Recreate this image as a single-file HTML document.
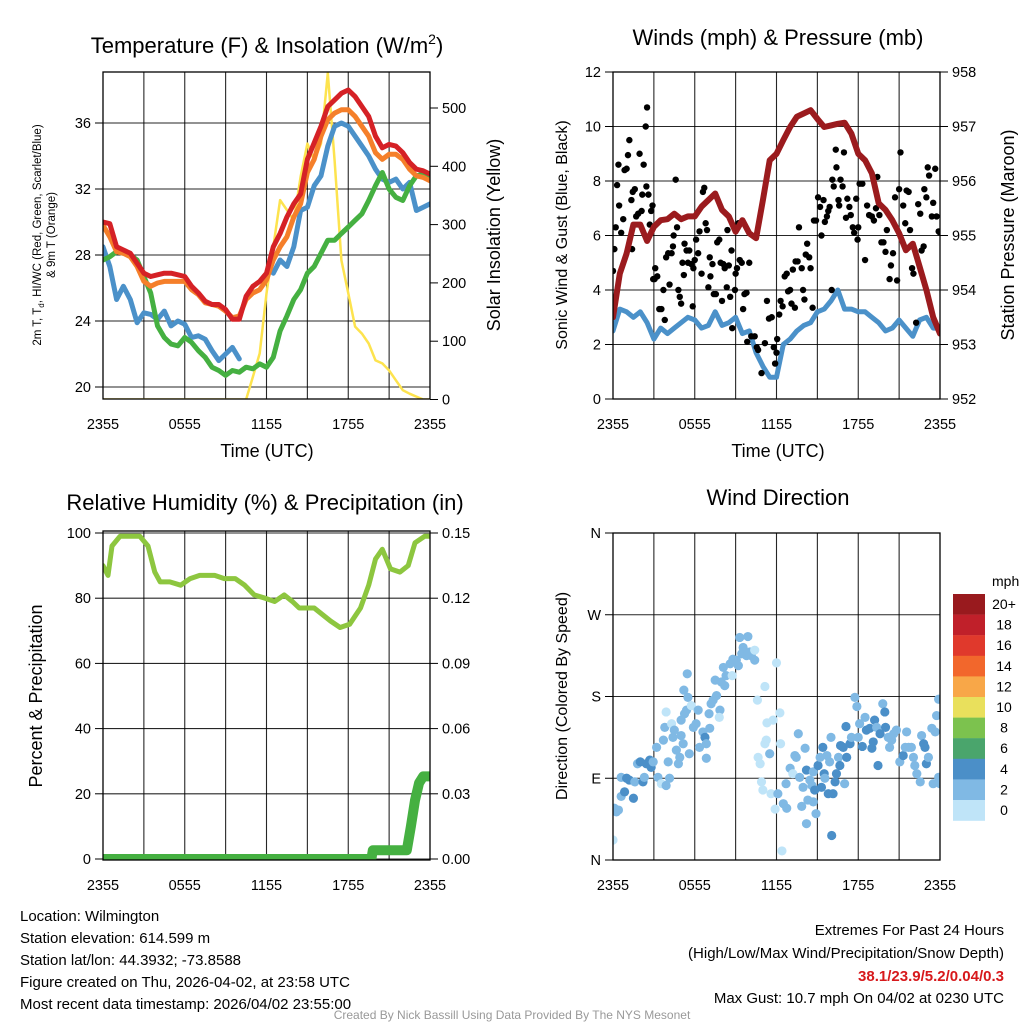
<!DOCTYPE html>
<html><head><meta charset="utf-8">
<style>
html,body{margin:0;padding:0;background:#fff;}
svg{display:block;font-family:"Liberation Sans",sans-serif;}
</style></head>
<body>
<svg id="c" width="1024" height="1024" viewBox="0 0 1024 1024">
<g id="texts">
<text x="267" y="53" font-size="22" text-anchor="middle">Temperature (F) &amp; Insolation (W/m<tspan font-size="14" dy="-9">2</tspan><tspan dy="9">)</tspan></text>
<text x="778" y="45" font-size="22" text-anchor="middle">Winds (mph) &amp; Pressure (mb)</text>
<text x="265" y="510" font-size="22" text-anchor="middle">Relative Humidity (%) &amp; Precipitation (in)</text>
<text x="778" y="505" font-size="22" text-anchor="middle">Wind Direction</text>
<text x="267" y="457" font-size="18" text-anchor="middle">Time (UTC)</text>
<text x="778" y="457" font-size="18" text-anchor="middle">Time (UTC)</text>
<text transform="translate(41,235) rotate(-90)" font-size="11.5" text-anchor="middle">2m T, T<tspan font-size="8" dy="3">d</tspan><tspan dy="-3">, HI/WC (Red, Green, Scarlet/Blue)</tspan></text>
<text transform="translate(55,235) rotate(-90)" font-size="11.5" text-anchor="middle">&amp; 9m T (Orange)</text>
<text transform="translate(500,235) rotate(-90)" font-size="18" text-anchor="middle">Solar Insolation (Yellow)</text>
<text transform="translate(567,235) rotate(-90)" font-size="16" text-anchor="middle">Sonic Wind &amp; Gust (Blue, Black)</text>
<text transform="translate(1014,235) rotate(-90)" font-size="18" text-anchor="middle">Station Pressure (Maroon)</text>
<text transform="translate(42,696) rotate(-90)" font-size="18" text-anchor="middle">Percent &amp; Precipitation</text>
<text transform="translate(567,696) rotate(-90)" font-size="16" text-anchor="middle">Direction (Colored By Speed)</text>
<g font-size="15">
<text x="20" y="921">Location: Wilmington</text>
<text x="20" y="943">Station elevation: 614.599 m</text>
<text x="20" y="965">Station lat/lon: 44.3932; -73.8588</text>
<text x="20" y="987">Figure created on Thu, 2026-04-02, at 23:58 UTC</text>
<text x="20" y="1009">Most recent data timestamp: 2026/04/02 23:55:00</text>
</g>
<g font-size="15" text-anchor="end">
<text x="1004" y="935">Extremes For Past 24 Hours</text>
<text x="1004" y="958">(High/Low/Max Wind/Precipitation/Snow Depth)</text>
<text x="1004" y="981" fill="#d7191c" font-weight="bold">38.1/23.9/5.2/0.04/0.3</text>
<text x="1004" y="1003">Max Gust: 10.7 mph On 04/02 at 0230 UTC</text>
</g>
<text x="512" y="1019" font-size="12" fill="#999" text-anchor="middle">Created By Nick Bassill Using Data Provided By The NYS Mesonet</text>
<text x="992" y="586" font-size="14">mph</text>
</g>
</svg>
<script>
// ---------- data ----------
const hours = [0,0.5,1,1.5,2,2.5,3,3.5,4,4.5,5,5.5,6,6.5,7,7.5,8,8.5,9,9.5,10,10.5,11,11.5,12,12.5,13,13.5,14,14.5,15,15.5,16,16.5,17,17.5,18,18.5,19,19.5,20,20.5,21,21.5,22,22.5,23,23.5,24];
const temp2m = [30.0,29.9,28.5,28.3,28.1,27.5,26.9,26.7,26.8,26.9,26.9,26.8,26.7,26.1,25.7,25.2,25.0,25.0,24.7,24.1,24.1,25.5,26.1,26.4,26.9,28.5,29.3,30.3,31.1,31.7,33.8,34.8,35.8,37.0,37.4,37.8,38.0,37.6,37.0,36.4,35.2,34.5,34.7,34.6,34.2,33.6,33.2,33.1,32.9];
const temp9m = [29.8,29.1,28.2,28.1,27.9,27.3,26.4,26.1,26.3,26.4,26.4,26.4,26.4,25.9,25.6,25.1,25.0,24.9,24.6,24.2,24.3,25.3,25.7,25.9,26.5,27.7,28.5,29.1,30.3,31.1,33.0,33.8,35.2,36.2,36.6,36.8,36.8,36.4,35.8,35.2,34.2,33.8,34.1,34.1,33.8,33.2,32.8,32.7,32.5];
const dewpt = [27.7,27.9,28.2,28.1,28.0,27.7,26.7,25.7,23.7,23.0,22.6,22.5,23.0,22.7,22.2,21.8,21.2,21.0,20.7,21.0,20.9,21.2,21.1,21.4,21.2,21.8,23.4,24.3,25.3,25.9,26.9,27.3,28.1,28.9,28.9,29.3,29.7,30.1,30.5,31.3,32.2,33.0,32.0,31.5,31.3,32.2,32.8,32.9,32.7];
const heatWind = [28.5,27.3,25.3,26.1,25.3,23.9,24.5,24.4,24.1,24.6,23.7,24.0,23.8,23.0,23.1,22.9,22.2,21.6,22.0,22.4,21.7,null,null,null,null,26.9,27.7,27.3,28.5,30.7,30.9,32.2,32.8,34.6,35.8,36.0,35.8,35.2,34.6,34.0,33.2,32.6,32.4,32.6,32.0,32.4,30.7,30.9,31.1];
const insolation = [0,0,0,0,0,0,0,0,0,0,0,0,0,0,0,0,0,0,0,0,0,0,39,79,182,262,342,325,307,382,439,410,439,560,410,239,182,125,113,96,67,62,50,33,16,10,5,0,0];
const windSpeed = [2.5,3.3,3.2,3.0,3.2,2.8,2.2,2.6,2.4,2.6,2.8,3.0,2.9,2.6,2.7,3.2,2.7,2.8,3.0,2.4,2.5,1.7,1.2,0.8,0.8,2.0,2.2,2.5,2.7,2.8,3.2,3.3,3.6,4.0,3.3,3.3,3.2,3.2,3.0,2.8,2.5,2.6,2.9,2.6,2.3,2.9,3.0,2.6,2.6];
const pressure = [953.5,954.3,954.67,955.2,955.2,954.9,955.16,955.28,955.3,955.4,955.3,955.35,955.35,955.53,955.65,955.77,955.47,955.35,955.07,955.28,955.04,954.95,955.65,956.38,956.5,956.75,956.99,957.18,957.24,957.3,957.14,956.99,957.02,957.05,957.07,956.87,956.5,956.38,956.14,955.59,955.47,955.28,955.04,954.73,954.85,954.43,954.0,953.5,953.2];
const gustHours = [0,0.1,0.2,0.3,0.4,0.45,0.6,0.75,0.85,1.0,1.1,1.2,1.35,1.4,1.45,1.6,1.7,1.85,1.95,2.1,2.15,2.25,2.4,2.5,2.45,2.6,2.7,2.8,2.9,2.95,3.05,3.1,3.25,3.4,3.55,3.7,3.8,3.9,4.05,4.15,4.3,4.4,4.45,4.6,4.7,4.8,4.9,5.0,5.1,5.2,5.25,5.4,5.5,5.6,5.75,5.85,5.9,6.0,6.1,6.25,6.35,6.5,6.6,6.7,6.8,6.9,7.0,7.1,7.15,7.3,7.4,7.55,7.65,7.8,7.9,8.0,8.1,8.2,8.35,8.4,8.5,8.6,8.7,8.75,8.95,9.0,9.1,9.2,9.3,9.45,9.55,9.65,9.8,9.85,10.0,10.15,10.4,10.55,10.65,10.9,11.15,11.3,11.45,11.65,11.8,11.9,12.0,12.05,12.2,12.3,12.45,12.6,12.75,12.85,13.0,13.1,13.2,13.35,13.4,13.55,13.65,13.85,13.95,14.05,14.15,14.25,14.4,14.5,14.65,14.75,14.9,15.05,15.2,15.3,15.45,15.55,15.7,15.8,15.9,16.05,16.1,16.2,16.35,16.4,16.55,16.6,16.7,16.85,16.95,17.1,17.2,17.35,17.45,17.6,17.7,17.85,17.95,18.0,18.1,18.3,18.5,18.65,18.8,19.0,19.15,19.3,19.4,19.55,19.7,19.85,20.0,20.1,20.3,20.4,20.55,20.7,20.85,21.0,21.1,21.3,21.45,21.55,21.7,21.8,21.95,22.05,22.25,22.4,22.55,22.65,22.8,22.85,23.0,23.1,23.2,23.4,23.5,23.65,23.75,23.9,24.0];
const gustSpeed = [4.7,5.5,6.3,7.85,8.6,7.1,6.1,6.6,8.4,8.45,8.95,9.5,7.3,5.5,7.6,7.7,6.7,6.8,9.0,6.9,7.5,8.6,10.0,10.7,7.8,7.5,6.4,6.9,7.1,4.4,4.4,4.8,4.5,3.3,3.3,4.0,2.9,5.2,5.35,4.2,5.35,5.6,6.0,8.05,6.3,4.0,3.75,3.5,5.0,4.55,5.7,5.45,5.0,5.45,4.95,3.4,4.8,5.1,5.85,5.35,6.15,4.6,7.6,7.75,6.45,6.2,4.1,5.2,4.5,4.95,3.85,3.85,5.75,5.85,5.0,3.6,4.95,4.8,4.1,6.2,4.9,3.75,5.45,2.6,4.0,4.6,4.8,6.45,5.1,5.0,3.3,3.85,3.9,2.1,5.0,2.3,2.3,1.9,1.8,0.95,2.05,3.6,2.95,3.0,1.9,1.3,1.7,2.2,3.1,3.6,3.4,4.5,4.6,3.95,4.0,3.5,4.75,3.35,5.05,5.05,6.3,4.8,4.0,3.65,5.3,5.7,5.2,4.8,3.35,6.55,6.55,7.4,7.05,6.0,7.3,6.5,6.7,6.9,7.05,4.0,8.05,7.8,9.15,8.5,7.3,7.1,8.05,7.8,9.05,6.65,7.35,7.05,6.75,6.3,6.1,7.35,5.85,6.3,7.9,7.9,5.1,7.1,6.75,6.7,6.55,7.0,8.15,6.75,5.75,5.75,5.4,6.2,4.4,4.9,5.35,7.4,4.35,7.7,9.05,7.1,6.45,7.65,7.6,6.2,4.8,4.6,2.8,7.15,6.8,5.45,5.6,7.7,7.4,8.5,8.2,6.7,7.2,8.45,6.7,6.15,6.1];
const rhHours = [0,0.37,0.66,1.25,2.7,3.3,3.8,4.2,4.9,5.7,6.4,7.1,8.2,8.9,9.7,10.4,11.1,11.9,12.6,13.3,13.9,14.4,15.5,16.7,17.4,18.1,18.9,19.5,20.0,20.5,21.1,21.8,22.4,22.9,23.6,24];
const rh = [90,87,96,99,99,96,88,85,85,84,86,87,87,86,86,84,81,80,79,81,79,77,77,73,71,72,77,84,92,95,89,88,90,97,99,99];
const precipHours = [0,19.7,19.8,22.3,22.6,22.9,23.2,23.5,24];
const precip = [0,0,0.004,0.004,0.015,0.027,0.035,0.038,0.038];
const dirHours = [0,0.1,0.25,0.4,0.6,0.85,1.5,0.6,1.0,1.2,1.6,1.8,2.0,2.2,2.3,2.45,2.7,2.8,2.95,3.2,3.3,3.55,3.9,4.15,3.7,3.8,3.9,4.05,4.3,4.4,4.5,4.65,4.8,4.9,5.0,5.15,5.0,5.25,5.4,5.5,5.2,5.45,5.75,5.6,5.9,6.1,6.25,6.35,6.6,6.75,6.85,6.85,7.05,7.1,7.2,7.35,7.6,7.85,7.8,7.5,7.95,8.2,8.1,8.3,8.6,8.75,8.8,9.05,9.2,9.3,9.45,9.55,9.8,9.9,10.05,10.15,10.4,10.4,10.6,11.15,12.0,10.65,10.8,10.9,11.0,11.15,11.25,11.3,11.5,11.75,11.6,11.9,12.25,12.3,12.4,12.1,12.5,12.75,12.7,13.0,13.2,13.35,13.45,13.6,13.7,13.85,13.95,14.1,14.2,14.2,14.3,14.45,14.6,14.7,14.7,14.8,14.9,15.05,15.2,15.3,15.4,15.5,15.55,15.7,15.8,15.9,16.0,16.05,16.15,16.3,16.4,16.55,16.65,16.7,16.9,17.0,17.1,17.15,17.4,17.5,17.75,17.9,18.0,18.1,18.3,18.5,18.6,18.85,19.0,19.1,19.2,19.35,19.45,19.6,19.8,19.95,20.0,20.2,20.3,20.45,20.6,20.8,21.05,21.3,21.55,21.45,21.7,21.9,22.05,22.15,22.3,22.55,22.65,22.8,22.9,23.0,23.15,23.4,23.5,23.75,23.9,23.9,24.0,23.65];
const dirDeg = [22,57,53,55,70,75,68,91,90,88,86,106,108,86,91,106,110,102,108,124,91,84,82,90,132,146,163,108,150,135,143,121,106,113,137,128,154,161,165,179,187,205,170,117,146,150,165,124,141,135,128,112,161,145,172,176,181,165,157,198,196,192,212,203,216,203,221,220,214,245,227,234,225,246,229,225,231,220,176,191,217,113,106,86,77,128,132,151,117,154,73,56,162,128,10,73,62,57,84,101,95,115,113,139,91,59,80,123,99,40,66,88,82,64,97,77,51,104,113,80,124,95,90,115,73,108,135,27,73,86,95,113,104,126,124,84,147,113,128,135,179,169,135,150,125,157,143,145,123,130,154,146,104,139,172,163,146,135,124,132,139,143,108,115,141,124,124,124,113,104,95,86,137,128,124,106,113,145,84,159,177,91,84,141];
const dirSpeed = [1,3,3,3,3,5,5,3,5,5,3,3,5,5,3,5,5,5,3,3,3,1,3,3,3,3,1,3,1,3,3,3,3,3,3,3,3,3,3,3,3,3,1,3,3,3,3,3,3,5,3,3,3,3,3,3,3,3,1,3,3,3,3,3,3,1,3,3,3,3,3,3,3,3,3,3,1,3,1,1,1,1,1,1,1,1,1,1,3,1,1,1,1,1,1,3,3,3,3,3,1,3,3,3,3,3,3,3,5,3,3,3,3,3,3,5,3,5,3,5,5,5,3,3,5,3,3,5,5,5,5,3,5,5,5,3,5,5,5,3,3,3,3,3,5,3,5,5,5,5,5,3,5,5,3,5,5,3,3,3,3,3,3,5,3,3,3,3,3,3,3,3,3,5,5,5,3,3,3,3,3,3,3,3];
const timeTicks = ["2355","0555","1155","1755","2355"];
const tempTicks = [20,24,28,32,36];
const insolTicks = [0,100,200,300,400,500];
const windTicks = [0,2,4,6,8,10,12];
const presTicks = [952,953,954,955,956,957,958];
const rhTicks = [0,20,40,60,80,100];
const precipTicks = ["0.00","0.03","0.06","0.09","0.12","0.15"];
const dirLabels = ["N","E","S","W","N"];
const cbLabels = ["20+","18","16","14","12","10","8","6","4","2","0"];
const cbColors = ["#991a1e","#c0202a","#e0392c","#f2672c","#f8a748","#e9e05c","#7cc24e","#4aa56c","#4b8fc8","#80b9e4","#bfe4f8"];

// ---------- helpers ----------
const NS = "http://www.w3.org/2000/svg";
const svg = document.getElementById('c');
function mk(tag, attrs, parent){const e=document.createElementNS(NS,tag);for(const k in attrs)e.setAttribute(k,attrs[k]);(parent||svg).appendChild(e);return e;}
function lin(d0,d1,r0,r1){return v=>r0+(v-d0)/(d1-d0)*(r1-r0);}
function panel(name,x0,x1,y0,y1){
  const g=mk('g',{});
  
  
  return {g,x0,x1,y0,y1,x:lin(0,24,x0,x1)};
}
function frame(p){
  const r=mk('rect',{x:p.x0,y:p.y0,width:p.x1-p.x0,height:p.y1-p.y0,fill:'none',stroke:'#000','stroke-width':1.3},p.g);
  
  
}
function vgrid(p){
  for(let h=3;h<24;h+=3){
    const l=mk('line',{x1:p.x(h),x2:p.x(h),y1:p.y0,y2:p.y1,stroke:'#000','stroke-width':1.1,'stroke-opacity':0.85},p.g);
    
    
  }
  timeTicks.forEach((t,i)=>{
    const x=p.x(i*6);
    const tx=mk('text',{x:x,y:p.y1+30,'font-size':14.5,'text-anchor':'middle'},p.g);
    tx.textContent=t;
    
    
  });
}
function hgrid(p,ys,labels,side,grid){
  ys.forEach((y,i)=>{
    if(grid){const l=mk('line',{x1:p.x0,x2:p.x1,y1:y,y2:y,stroke:'#000','stroke-width':1.1,'stroke-opacity':0.85},p.g);
      
      }
    const xe=side==='l'?p.x0:p.x1;
    mk('line',{x1:xe,x2:side==='l'?xe-8:xe+8,y1:y,y2:y,stroke:'#000'},p.g);
    const tx=mk('text',{x:side==='l'?xe-12:xe+12,y:y+5,'font-size':14.5,'text-anchor':side==='l'?'end':'start'},p.g);
    tx.textContent=labels[i];
    
    
  });
}
function line(p,xs,vals,ys,color,w,name){
  let segs=[],cur=[];
  vals.forEach((v,i)=>{if(v===null){if(cur.length)segs.push(cur);cur=[];}else cur.push(p.x(xs[i]).toFixed(1)+','+ys(v).toFixed(1));});
  if(cur.length)segs.push(cur);
  segs.forEach(s=>{
    const pl=mk('polyline',{points:s.join(' '),fill:'none',stroke:color,'stroke-width':w,'stroke-linejoin':'round','stroke-linecap':'round'},p.g);
    
    
  });
}
function clip(p,id){
  const cp=mk('clipPath',{id:id});
  mk('rect',{x:p.x0,y:p.y0,width:p.x1-p.x0,height:p.y1-p.y0},cp);
  const g=mk('g',{'clip-path':'url(#'+id+')'},p.g);
  
  
  return Object.assign({},p,{g});
}

// ---------- Panel 1: temperature ----------
const p1=panel('temperature-panel',103,430,72,399);
const tY=lin(20,36,387,123), iY=lin(0,500,399.5,108);
vgrid(p1);
hgrid(p1,tempTicks.map(tY),tempTicks,'l',true);
hgrid(p1,insolTicks.map(iY),insolTicks,'r',false);
const c1=clip(p1,'c1');
line(c1,hours,insolation,iY,'#fde34e',2.5,'insolation-line');
line(c1,hours,heatWind,tY,'#4b91c9',5,'heat-index-windchill-line');
line(c1,hours,dewpt,tY,'#45b041',5,'dewpoint-line');
line(c1,hours,temp9m,tY,'#f57f2a',5,'temp-9m-line');
line(c1,hours,temp2m,tY,'#d52126',5,'temp-2m-line');
frame(p1);

// ---------- Panel 2: winds ----------
const p2=panel('wind-panel',613,940,72,399);
const wY=lin(0,12,399,72), pY=lin(952,958,399,72);
vgrid(p2);
hgrid(p2,windTicks.map(wY),windTicks,'l',true);
hgrid(p2,presTicks.map(pY),presTicks,'r',false);
const c2=clip(p2,'c2');
line(c2,hours,windSpeed,wY,'#4b91c9',5,'sonic-wind-line');
gustHours.forEach((h,i)=>{
  const d=mk('circle',{cx:p2.x(h),cy:wY(gustSpeed[i]),r:3.2,fill:'#000'},c2.g);
  
  
});
line(c2,hours,pressure,pY,'#9b1b1e',6,'pressure-line');
frame(p2);

// ---------- Panel 3: RH ----------
const p3=panel('humidity-panel',103,430,531,860);
const rY=lin(0,100,859,533), prY=lin(0,0.15,859,533);
vgrid(p3);
hgrid(p3,rhTicks.map(rY),rhTicks,'l',true);
hgrid(p3,precipTicks.map(v=>prY(+v)),precipTicks,'r',false);
const c3=clip(p3,'c3');
line(c3,rhHours,rh,rY,'#8dc63f',5,'rh-line');
line(c3,precipHours,precip,prY,'#45b041',10,'precip-line');
frame(p3);

// ---------- Panel 4: direction ----------
const p4=panel('direction-panel',613,940,533,860);
const dY=lin(0,360,860,533);
vgrid(p4);
hgrid(p4,[0,90,180,270,360].map(dY),dirLabels,'l',true);
const c4=clip(p4,'c4');
function spColor(s){const idx=Math.min(10,Math.max(0,10-Math.floor(s/2)));return cbColors[idx];}
dirHours.forEach((h,i)=>{
  const d=mk('circle',{cx:p4.x(h),cy:dY(dirDeg[i]),r:4.6,fill:spColor(dirSpeed[i])},c4.g);
  
  
});
frame(p4);

// colorbar
const cb=mk('g',{});


cbColors.forEach((c,i)=>{
  const r=mk('rect',{x:953,y:594+i*20.6,width:32,height:20.8,fill:c},cb);
  
  
  const t=mk('text',{x:1004,y:609+i*20.6,'font-size':14,'text-anchor':'middle'},cb);
  t.textContent=cbLabels[i];
  
  
});
</script>
</body></html>
